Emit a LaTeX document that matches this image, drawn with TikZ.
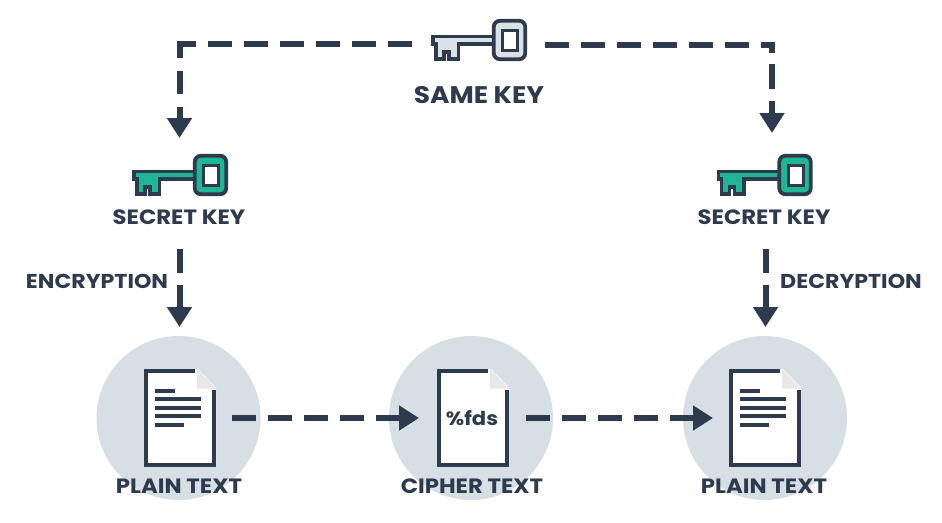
\documentclass[tikz,border=0pt]{standalone}
\usepackage{fontspec}
\setmainfont{Poppins}[FakeStretch=1.1]
\usetikzlibrary{arrows.meta}
\definecolor{ink}{HTML}{2E3B4E}
\definecolor{disc}{HTML}{D6DFE3}
\definecolor{teal}{HTML}{1FB696}
\definecolor{pale}{HTML}{D9E2E6}
\definecolor{foldc}{HTML}{E8E9E6}
\tikzset{
  x=1pt,y=-1pt,
  flow/.style={draw=ink,line width=6pt,dash pattern=on 24pt off 12pt,line join=miter,
    -{Triangle[length=20pt,width=24pt,sep=0pt]}},
  disc/.style={circle,fill=disc,minimum size=164pt,inner sep=0pt},
  lab/.style={text=ink,font=\bfseries\fontsize{20.7}{20}\selectfont,inner sep=0pt},
  sidelab/.style={text=ink,font=\bfseries\fontsize{20.1}{20}\selectfont,inner sep=0pt},
  biglab/.style={text=ink,font=\bfseries\fontsize{24}{24}\selectfont,inner sep=0pt},
  pics/keyicon/.style={code={
    \draw[ink,line width=3.5pt,fill=#1,line join=miter]
      (-16,-3.3) -- (-77,-3.3) -- (-77,4) -- (-74,4) -- (-74,19.2) -- (-66,19.2) -- (-66,12) -- (-61,12)
      -- (-61,19.2) -- (-51.75,19.2) -- (-51.75,4.2) -- (-16,4.2);
    \draw[ink,line width=3.8pt,fill=#1,rounded corners=6pt]
      (-16.2,-19.2) rectangle (15.2,19.2);
    \draw[ink,line width=3pt,fill=white] (-7.5,-9.5) rectangle (7.5,10);
  }},
  pics/docicon/.style={code={
    \fill[white] (-36,-48.5) -- (18,-48.5) -- (36,-30) -- (36,48.5) -- (-36,48.5) -- cycle;
    \fill[foldc] (17,-48.5) -- (36,-29) -- (17,-29) -- cycle;
    \draw[ink,line width=4pt,line join=miter]
      (15,-47) -- (-34,-47) -- (-34,47) -- (34,47) -- (34,-28);
  }},
  pics/textlines/.style={code={
    \draw[ink,line width=4pt]
      (-25,-27) -- (-5,-27)
      (-25,-18.5) -- (21,-18.5)
      (-25,-10) -- (21,-10)
      (-25,-1.5) -- (21,-1.5)
      (-25,7) -- (4,7);
  }}
}
\begin{document}
\begin{tikzpicture}
\useasboundingbox (0,0) rectangle (942,522);
\fill[white] (0,0) rectangle (942,522);

% discs
\node[disc] (d1) at (178.5,418) {};
\node[disc] (d2) at (471,418) {};
\node[disc] (d3) at (765,418) {};

% documents
\pic at (180,417.5) {docicon};
\pic at (180,417.5) {textlines};
\pic at (473,417.5) {docicon};
\pic at (765,417.5) {docicon};
\pic at (765,417.5) {textlines};
\node[text=ink,font=\bfseries\fontsize{19.2}{19}\selectfont,inner sep=0pt] (fds) at (472,418) {\%fds};

% keys
\pic at (510,40) {keyicon=pale};
\pic at (211,175) {keyicon=teal};
\pic at (795.5,175) {keyicon=teal};

% labels
\node[biglab] (same) at (479,95) {SAME KEY};
\node[lab] (sk1) at (179,217) {SECRET KEY};
\node[lab] (sk2) at (764,217) {SECRET KEY};
\node[sidelab] (enc) at (97,281) {ENCRYPTION};
\node[sidelab] (dec) at (851,281) {DECRYPTION};
\node[lab] (p1) at (179,486) {PLAIN TEXT};
\node[lab] (c1) at (472,486) {CIPHER TEXT};
\node[lab] (p2) at (764,486) {PLAIN TEXT};

% connector ends
\coordinate (kl) at (412,44);
\coordinate (klc) at (179.5,44);
\coordinate (kla) at (179.5,138);
\coordinate (kr) at (545,45);
\coordinate (krc) at (772,45);
\coordinate (kra) at (772,133);
\coordinate (e0) at (179.5,249);
\coordinate (e1) at (179.5,327);
\coordinate (f0) at (765.5,249);
\coordinate (f1) at (765.5,327);
\coordinate (h0) at (232,418);
\coordinate (h1) at (419,418);
\coordinate (i0) at (526,418);
\coordinate (i1) at (713,418);

\draw[flow,dash pattern=on 24pt off 12pt on 24pt off 12pt on 24pt off 12pt on 24pt off 12pt on 24pt off 12pt on 24pt off 12pt on 30pt off 13pt on 23pt off 13pt on 40pt off 0pt]
  (kl) -- (klc) -- (kla);
\draw[flow,dash pattern=on 24pt off 12pt on 24pt off 12pt on 24pt off 12pt on 24pt off 12pt on 24pt off 12pt on 24pt off 12pt on 18.7pt off 11.6pt on 24.4pt off 12pt on 40pt off 0pt]
  (kr) -- (krc) -- (kra);
\draw[flow] (e0) -- (e1);
\draw[flow] (f0) -- (f1);
\draw[flow] (h0) -- (h1);
\draw[flow] (i0) -- (i1);
\end{tikzpicture}
\end{document}
